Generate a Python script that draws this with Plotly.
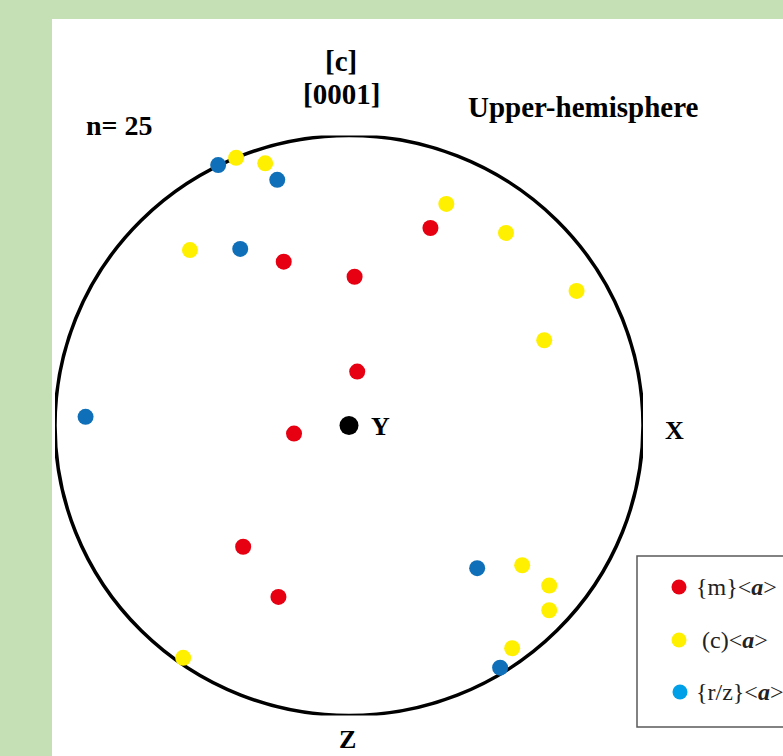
import plotly.graph_objects as go

W, H = 783, 756

# Pole positions on the unit stereonet (x to the right, y up)
m_x = [-0.222, 0.019, 0.277, 0.028, -0.187, -0.360, -0.240]
m_y = [0.565, 0.513, 0.681, 0.186, -0.028, -0.418, -0.591]

c_x = [-0.384, -0.285, -0.541, 0.331, 0.534, 0.774, 0.664, -0.564, 0.589, 0.681, 0.681, 0.555]
c_y = [0.923, 0.904, 0.605, 0.764, 0.664, 0.464, 0.294, -0.801, -0.482, -0.552, -0.637, -0.768]

rz_x = [-0.445, -0.244, -0.370, -0.896, 0.436, 0.514]
rz_y = [0.898, 0.847, 0.609, 0.030, -0.492, -0.835]

center_x = [0.0]
center_y = [0.0]

legend_labels = ["{m}&lt;<b><i>a</i></b>&gt;", " (c)&lt;<b><i>a</i></b>&gt;", "{r/z}&lt;<b><i>a</i></b>&gt;"]
legend_colors = ["#e60012", "#fff000", "#00a0e9"]

RED, YELLOW, BLUE = "#e60012", "#fff000", "#0f6fb8"
SERIF = "Liberation Serif"


def px(x):
    return x / W


def py(y):
    return (H - y) / H


fig = go.Figure()

for xs, ys, col in [(m_x, m_y, RED), (c_x, c_y, YELLOW), (rz_x, rz_y, BLUE)]:
    fig.add_trace(go.Scatter(
        x=xs, y=ys, mode="markers", cliponaxis=False, showlegend=False,
        marker=dict(size=16, color=col, line=dict(width=0)),
    ))

fig.add_trace(go.Scatter(
    x=center_x, y=center_y, mode="markers", cliponaxis=False, showlegend=False,
    marker=dict(size=19, color="black", line=dict(width=0)),
))

# Legend markers on a pixel-space overlay axis
leg_x = [679, 679, 680]
leg_y = [587, 640, 692]
fig.add_trace(go.Scatter(
    x=leg_x, y=leg_y, mode="markers", xaxis="x2", yaxis="y2", cliponaxis=False,
    showlegend=False, marker=dict(size=15, color=legend_colors, line=dict(width=0)),
))

shapes = [
    # white panel over the green page
    dict(type="rect", xref="paper", yref="paper", x0=px(52), x1=1.02, y0=-0.02, y1=py(19),
         fillcolor="white", line=dict(width=0), layer="below"),
    # primitive circle
    dict(type="circle", xref="x", yref="y", x0=-1, x1=1, y0=-1, y1=1,
         line=dict(color="black", width=3.5), layer="below"),
    # legend frame
    dict(type="rect", xref="x2", yref="y2", x0=637, x1=810, y0=556, y1=727,
         line=dict(color="#5a5a5a", width=1.5), fillcolor="rgba(0,0,0,0)"),
]

bold = dict(family=SERIF, size=29, color="black")
annotations = [
    dict(text="<b>[c]</b>", x=px(341), y=py(61)),
    dict(text="<b>[0001]</b>", x=px(341), y=py(94)),
    dict(text="<b>n= 25</b>", x=px(120), y=py(126), size=28),
    dict(text="<b>Upper-hemisphere</b>", x=px(583), y=py(107)),
    dict(text="<b>X</b>", x=px(674), y=py(430), size=26),
    dict(text="<b>Y</b>", x=px(380), y=py(426), size=26),
    dict(text="<b>Z</b>", x=px(347), y=py(739), size=26),
]
ann = []
for a in annotations:
    f = dict(bold)
    if "size" in a:
        f["size"] = a.pop("size")
    ann.append(dict(xref="paper", yref="paper", showarrow=False, xanchor="center",
                    yanchor="middle", font=f, **a))

for lab, ly, lx in zip(legend_labels, leg_y, [694, 694, 694]):
    ann.append(dict(xref="paper", yref="paper", x=px(lx), y=py(ly), text=lab,
                    showarrow=False, xanchor="left", yanchor="middle",
                    font=dict(family=SERIF, size=24, color="#222222")))

fig.update_layout(
    width=W, height=H,
    margin=dict(l=0, r=0, t=0, b=0),
    paper_bgcolor="#c5e0b4",
    plot_bgcolor="rgba(0,0,0,0)",
    shapes=shapes,
    annotations=ann,
    xaxis=dict(domain=[px(55), px(643)], range=[-1, 1], visible=False, fixedrange=True),
    yaxis=dict(domain=[py(715.5), py(135.5)], range=[-1, 1], visible=False, fixedrange=True),
    xaxis2=dict(domain=[0, 1], range=[0, W], visible=False, anchor="y2"),
    yaxis2=dict(domain=[0, 1], range=[H, 0], visible=False, anchor="x2"),
)

fig.write_html("out.html")
